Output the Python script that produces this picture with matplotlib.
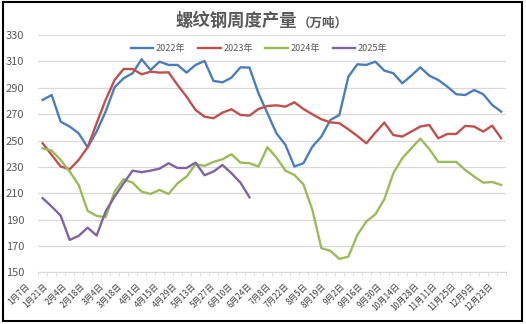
import matplotlib
matplotlib.use('Agg')
import matplotlib.pyplot as plt
import matplotlib.transforms as mtransforms
from matplotlib.patches import Rectangle

plt.rcParams['font.family'] = ['Noto Sans CJK SC', 'DejaVu Sans']

# weekly data, 52 weeks (1/7 ... 12/30), labels every second week
tick_labels = ['1月7日', '1月21日', '2月4日', '2月18日', '3月4日', '3月18日', '4月1日',
               '4月15日', '4月29日', '5月13日', '5月27日', '6月10日', '6月24日', '7月8日',
               '7月22日', '8月5日', '8月19日', '9月2日', '9月16日', '9月30日', '10月14日',
               '10月28日', '11月11日', '11月25日', '12月9日', '12月23日']

y2022 = [280.8, 284.5, 264.3, 260.6, 255.5, 244.9, 256.8, 271.9, 290.4, 297.2,
         301.0, 311.6, 303.5, 309.8, 307.3, 307.3, 301.5, 307.3, 310.3, 295.2,
         294.1, 297.7, 305.5, 305.3, 285.8, 270.7, 255.5, 246.7, 230.3, 232.8,
         245.4, 253.0, 265.6, 269.4, 298.4, 307.8, 307.3, 309.8, 303.0, 301.0,
         293.4, 299.2, 305.5, 299.2, 295.9, 290.9, 285.1, 284.5, 288.3, 285.1,
         277.0, 271.9]
y2023 = [247.9, 239.1, 230.3, 228.2, 235.3, 244.9, 263.1, 280.8, 295.9, 304.2,
         304.2, 300.2, 302.2, 301.5, 301.7, 292.1, 283.3, 273.2, 268.1, 266.9,
         271.2, 273.7, 269.4, 268.9, 273.9, 276.2, 276.7, 275.7, 279.0, 273.9,
         269.9, 266.1, 263.8, 263.1, 258.5, 253.5, 247.9, 256.0, 263.6, 254.2,
         253.0, 256.8, 260.6, 261.8, 251.7, 255.0, 255.0, 261.1, 260.6, 256.8,
         261.3, 251.7]
y2024 = [244.1, 242.4, 235.3, 226.5, 216.4, 196.7, 192.9, 191.9, 211.3, 220.7,
         218.1, 211.3, 209.5, 212.6, 209.5, 217.6, 222.7, 232.0, 230.8, 233.8,
         235.8, 239.6, 233.3, 232.8, 230.3, 244.9, 237.1, 227.2, 223.9, 216.8,
         197.4, 168.4, 166.4, 160.3, 162.0, 178.5, 188.6, 194.1, 205.5, 225.2,
         236.6, 244.1, 251.5, 243.6, 233.8, 233.8, 233.8, 227.7, 222.7, 218.1,
         218.6, 216.4]
y2025 = [206.3, 200.0, 193.1, 174.7, 177.7, 184.0, 178.0, 196.2, 207.5, 217.6,
         227.2, 226.0, 227.2, 228.7, 232.8, 229.2, 229.2, 233.3, 223.7, 226.5,
         231.5, 225.2, 218.1, 207.0]

series = [('2022年', y2022, '#4A7EBB'), ('2023年', y2023, '#C0504D'),
          ('2024年', y2024, '#9BBB59'), ('2025年', y2025, '#8064A2')]

fig = plt.figure(figsize=(5.26, 3.24), dpi=100)
ax = fig.add_axes([0.0726, 0.159, 0.8888, 0.733])

for name, vals, col in series:
    ax.plot(range(len(vals)), vals, color=col, lw=1.7, label=name)

n = len(y2022)
ax.set_xlim(-0.5, n - 0.5)
ax.set_ylim(150, 330)
ax.set_yticks(range(150, 331, 20))
ax.yaxis.grid(True, color='#D9D9D9', lw=0.9)
ax.set_axisbelow(True)
for s in ['top', 'right', 'left']:
    ax.spines[s].set_visible(False)
ax.spines['bottom'].set_color('#D9D9D9')
ax.tick_params(axis='y', length=0, pad=10, labelsize=8, labelcolor='#595959')

# x axis: labels on every second week, small marks between weeks
ax.tick_params(axis='x', which='major', length=0, pad=0)
ax.tick_params(axis='x', which='minor', length=3, color='#D9D9D9')
ax.set_xticks([i - 0.5 for i in range(n + 1)], minor=True)
ax.set_xticks(range(0, n, 2))
ax.set_xticklabels(tick_labels, rotation=45, ha='right', va='center',
                   rotation_mode='anchor', fontsize=6, color='#404040')
# labels in the original drift a little left of their ticks towards the start
for k, lab in enumerate(ax.get_xticklabels()):
    dx = (-14.5 + 0.56 * k) / 100
    lab.set_transform(lab.get_transform() +
                      mtransforms.ScaledTranslation(dx, -0.125, fig.dpi_scale_trans))

fig.text(0.4496, 0.9358, '螺纹钢周度产量', ha='center', va='center',
         fontsize=12.5, fontweight='bold', color='#595959')
fig.text(0.613, 0.929, '（万吨）', ha='center', va='center',
         fontsize=9, fontweight='bold', color='#595959')

ax.legend(loc='center', bbox_to_anchor=(0.4925, 0.850), bbox_transform=fig.transFigure,
          ncol=4, frameon=False, fontsize=6.5, handlelength=2.5, handletextpad=0.3,
          columnspacing=1.4, labelcolor='#595959')

fig.patches.append(Rectangle((0.006, 0.008), 0.986, 0.986, transform=fig.transFigure,
                             fill=False, edgecolor='black', lw=1.5))

fig.savefig('out.png', dpi=100)
